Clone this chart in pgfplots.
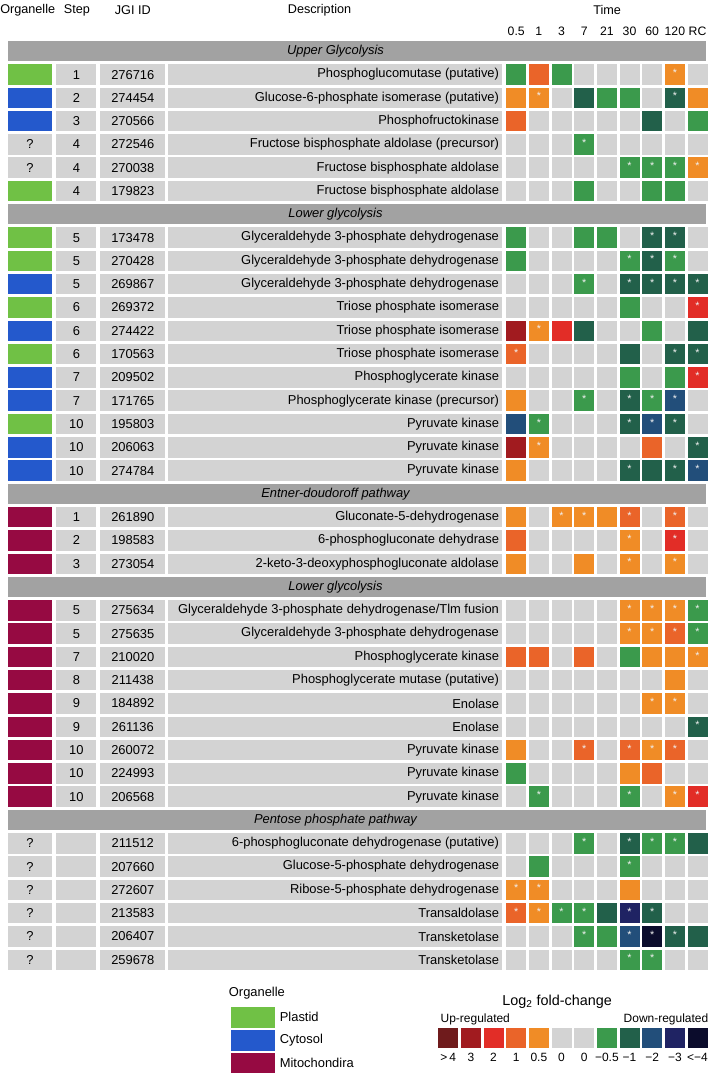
\documentclass[border=0pt]{standalone}
\usepackage{pgfplots}
\pgfplotsset{compat=1.18}
\usepackage{pgfplotstable}
\usepackage{fontspec}
\setmainfont{Liberation Sans}
\newcommand\fs[1]{\fontsize{#1}{#1}\selectfont}

\definecolor{cG}{HTML}{D3D3D3}
\definecolor{cBand}{HTML}{A2A2A2}
\definecolor{ca}{HTML}{3B9A4C}
\definecolor{cb}{HTML}{22604A}
\definecolor{cc}{HTML}{224E7A}
\definecolor{cd}{HTML}{1F2363}
\definecolor{ce}{HTML}{0B0C2C}
\definecolor{co}{HTML}{F08C26}
\definecolor{cp}{HTML}{EA6429}
\definecolor{cq}{HTML}{E22D27}
\definecolor{ct}{HTML}{A11B1F}
\definecolor{cu}{HTML}{6F1B1C}
\definecolor{cP}{HTML}{70C145}
\definecolor{cC}{HTML}{2459CC}
\definecolor{cM}{HTML}{960A42}

\newcommand\rect[2]{\pgfpathrectangle{\pgfpoint{-#1/2}{-#2/2}}{\pgfpoint{#1}{#2}}\pgfusepathqfill}
\pgfdeclareplotmark{cell}{\rect{15pt}{15.4pt}}
\pgfdeclareplotmark{cellstar}{\rect{15pt}{15.4pt}%
  \pgftext[at=\pgfpoint{0pt}{1.2pt}]{\color{white!88!gray}\fs{8}*}}
\pgfdeclareplotmark{org}{\rect{33pt}{15.4pt}}
\pgfdeclareplotmark{orgq}{\rect{33pt}{15.4pt}\pgftext{\color{black}\fs{9.7}?}}
\pgfdeclareplotmark{stepbox}{\rect{30pt}{15.4pt}}
\pgfdeclareplotmark{idbox}{\rect{48.75pt}{15.4pt}}
\pgfdeclareplotmark{descbox}{\rect{251.25pt}{15.4pt}}
\pgfdeclareplotmark{bandbox}{\rect{524.25pt}{15pt}}

\pgfplotsset{
  heat/.style={scatter, only marks, scatter src=explicit symbolic,
    scatter/classes={
      G={mark=cell,cG},
      a={mark=cell,ca}, as={mark=cellstar,ca},
      b={mark=cell,cb}, bs={mark=cellstar,cb},
      c={mark=cell,cc}, cs={mark=cellstar,cc},
      d={mark=cell,cd}, ds={mark=cellstar,cd},
      e={mark=cell,ce}, es={mark=cellstar,ce},
      o={mark=cell,co}, os={mark=cellstar,co},
      p={mark=cell,cp}, ps={mark=cellstar,cp},
      q={mark=cell,cq}, qs={mark=cellstar,cq},
      t={mark=cell,ct}, ts={mark=cellstar,ct},
      u={mark=cell,cu}, us={mark=cellstar,cu}}},
  orgmk/.style={scatter, only marks, scatter src=explicit symbolic,
    scatter/classes={P={mark=org,cP},C={mark=org,cC},M={mark=org,cM},U={mark=orgq,cG}}},
  box/.style={only marks, mark=#1, color=cG},
  txt/.style={only marks, mark=none, nodes near coords, point meta=explicit symbolic,
    every node near coord/.append style={anchor=center, inner sep=0pt, font=\fs{9.7}, text=black}},
}

% row slot, log2 fold-change class per time point (s = significant, star)
% classes: u >4, t 3, q 2, p 1, o 0.5, G 0, a -0.5, b -1, c -2, d -3, e <-4
\pgfplotstableread{
s  c0 c1 c2 c3 c4 c5 c6 c7 c8
1  a  p  a  G  G  G  G  os G
2  o  os G  b  a  a  G  bs o
3  p  G  G  G  G  G  b  G  a
4  G  G  G  as G  G  G  G  G
5  G  G  G  G  G  as as as os
6  G  G  G  a  G  G  a  a  G
8  a  G  G  a  a  G  bs bs G
9  a  G  G  G  G  as bs as G
10 G  G  G  as G  bs bs bs bs
11 G  G  G  G  G  a  G  G  qs
12 t  os q  b  G  G  a  G  b
13 ps G  G  G  G  b  G  bs bs
14 G  G  G  G  G  a  G  a  qs
15 o  G  G  as G  bs as cs G
16 c  as G  G  G  bs cs bs G
17 t  os G  G  G  G  p  G  bs
18 o  G  G  G  G  bs b  bs cs
20 o  G  os os o  ps G  ps G
21 p  G  G  G  G  os G  qs G
22 o  G  G  o  G  os G  os G
24 G  G  G  G  G  os os os as
25 G  G  G  G  G  os os ps as
26 p  p  G  p  G  a  o  o  os
27 G  G  G  G  G  G  G  o  G
28 G  G  G  G  G  G  os os G
29 G  G  G  G  G  G  G  G  bs
30 o  G  G  ps G  ps os ps G
31 a  G  G  G  G  o  p  G  G
32 G  as G  G  G  as G  os qs
34 G  G  G  as G  bs as as b
35 G  a  G  G  G  as G  G  G
36 os os G  G  G  o  G  G  G
37 ps os as as b  ds bs G  G
38 G  G  G  as a  cs es bs b
39 G  G  G  G  G  as as G  G
}\cells

\pgfplotstableread[col sep=semicolon]{
s;org;step;id;desc
1;P;1;276716;Phosphoglucomutase (putative)
2;C;2;274454;Glucose-6-phosphate isomerase (putative)
3;C;3;270566;Phosphofructokinase
4;U;4;272546;Fructose bisphosphate aldolase (precursor)
5;U;4;270038;Fructose bisphosphate aldolase
6;P;4;179823;Fructose bisphosphate aldolase
8;P;5;173478;Glyceraldehyde 3-phosphate dehydrogenase
9;P;5;270428;Glyceraldehyde 3-phosphate dehydrogenase
10;C;5;269867;Glyceraldehyde 3-phosphate dehydrogenase
11;P;6;269372;Triose phosphate isomerase
12;C;6;274422;Triose phosphate isomerase
13;P;6;170563;Triose phosphate isomerase
14;C;7;209502;Phosphoglycerate kinase
15;C;7;171765;Phosphoglycerate kinase (precursor)
16;P;10;195803;Pyruvate kinase
17;C;10;206063;Pyruvate kinase
18;C;10;274784;Pyruvate kinase
20;M;1;261890;Gluconate-5-dehydrogenase
21;M;2;198583;6-phosphogluconate dehydrase
22;M;3;273054;2-keto-3-deoxyphosphogluconate aldolase
24;M;5;275634;Glyceraldehyde 3-phosphate dehydrogenase/Tlm fusion
25;M;5;275635;Glyceraldehyde 3-phosphate dehydrogenase
26;M;7;210020;Phosphoglycerate kinase
27;M;8;211438;Phosphoglycerate mutase (putative)
28;M;9;184892;Enolase
29;M;9;261136;Enolase
30;M;10;260072;Pyruvate kinase
31;M;10;224993;Pyruvate kinase
32;M;10;206568;Pyruvate kinase
34;U;{};211512;6-phosphogluconate dehydrogenase (putative)
35;U;{};207660;Glucose-5-phosphate dehydrogenase
36;U;{};272607;Ribose-5-phosphate dehydrogenase
37;U;{};213583;Transaldolase
38;U;{};206407;Transketolase
39;U;{};259678;Transketolase
}\rows

\pgfplotstableread[col sep=semicolon]{
s;t
0;Upper Glycolysis
7;Lower glycolysis
19;Entner-doudoroff pathway
23;Lower glycolysis
33;Pentose phosphate pathway
}\bands

\pgfplotstableread[col sep=semicolon]{
i;lab
0;0.5
1;1
2;3
3;7
4;21
5;30
6;60
7;120
8;RC
}\times

\pgfplotstableread[col sep=semicolon]{
y;cls;lab
1017.5;P;Plastid
1040.5;C;Cytosol
1063;M;Mitochondira
}\orglegend

\pgfplotstableread[col sep=semicolon]{
k;cls;lab
0;u;>\,4
1;t;3
2;q;2
3;p;1
4;o;0.5
5;G;0
6;G;0
7;a;−0.5
8;b;−1
9;c;−2
10;d;−3
11;e;<−4
}\fclegend

\begin{document}
\begin{tikzpicture}
\begin{axis}[x=0.75pt, y=0.75pt, y dir=reverse,
  xmin=0, xmax=709, ymin=0, ymax=1073,
  hide axis, clip=false]
\addplot[draw=none, forget plot] coordinates {(0,0) (709,1073)};

% group bands
\addplot[only marks, mark=bandbox, color=cBand] table[x expr=357.5, y expr={50+23.33*\thisrow{s}}] \bands;
\addplot[txt, every node near coord/.append style={font=\fs{9.7}\itshape}]
  table[x expr=336, y expr={50+23.33*\thisrow{s}}, meta=t] \bands;

% organelle boxes
\addplot[orgmk] table[x expr=30, y expr={50+23.33*\thisrow{s}}, meta=org] \rows;
% row boxes
\addplot[box=stepbox] table[x expr=76.5, y expr={50+23.33*\thisrow{s}}] \rows;
\addplot[box=idbox] table[x expr=132.5, y expr={50+23.33*\thisrow{s}}] \rows;
\addplot[box=descbox] table[x expr=335.5, y expr={50+23.33*\thisrow{s}}] \rows;
% row texts
\addplot[txt] table[x expr=76.5, y expr={50+23.33*\thisrow{s}}, meta=step] \rows;
\addplot[txt] table[x expr=133, y expr={50+23.33*\thisrow{s}}, meta=id] \rows;
\addplot[txt, every node near coord/.append style={anchor=east}]
  table[x expr=500, y expr={50+23.33*\thisrow{s}}, meta=desc] \rows;

% heat map cells
\pgfplotsinvokeforeach{0,...,8}{
  \addplot[heat] table[x expr={517+22.7*#1}, y expr={50+23.33*\thisrow{s}}, meta=c#1] \cells;
}

% headers
\node[anchor=west, inner sep=0pt, font=\fs{9.5}] at (axis cs:0,9) {Organelle};
\node[font=\fs{9.5}] at (axis cs:77,9) {Step};
\node[font=\fs{9.5}] at (axis cs:133,9) {JGI ID};
\node[font=\fs{9.5}] at (axis cs:320,9) {Description};
\node[font=\fs{9.5}] at (axis cs:608,9) {Time};
\addplot[txt, every node near coord/.append style={font=\fs{9.2}}]
  table[x expr={517+22.7*\thisrow{i}}, y expr=30, meta=lab] \times;

% organelle legend
\node[anchor=west, inner sep=0pt, font=\fs{9.7}] at (axis cs:229,993) {Organelle};
\addplot[orgmk] table[x expr=253.5, y=y, meta=cls] \orglegend;
\addplot[txt, every node near coord/.append style={anchor=west}]
  table[x expr=280, y=y, meta=lab] \orglegend;

% fold-change legend
\node[font=\fs{10.8}] at (axis cs:558,1002) {Log\textsubscript{2} fold-change};
\node[font=\fs{9}] at (axis cs:476,1020) {Up-regulated};
\node[font=\fs{9}] at (axis cs:667,1020) {Down-regulated};
\addplot[heat] table[x expr={448.9+22.7*\thisrow{k}}, y expr=1038, meta=cls] \fclegend;
\addplot[txt, every node near coord/.append style={font=\fs{9}}]
  table[x expr={448.9+22.7*\thisrow{k}}, y expr=1058, meta=lab] \fclegend;
\end{axis}
\end{tikzpicture}
\end{document}
